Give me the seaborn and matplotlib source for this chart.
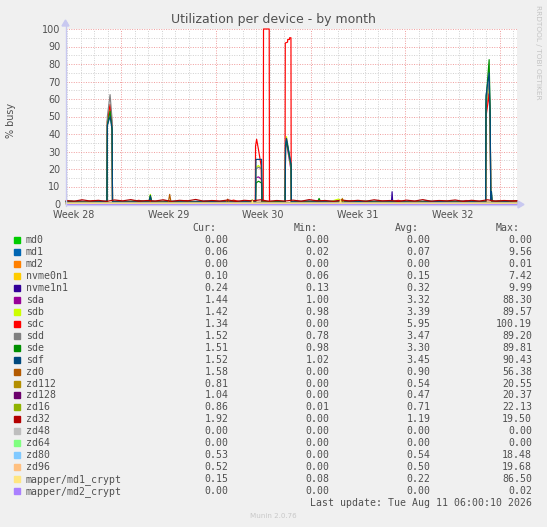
import numpy as np
import pandas as pd
import seaborn as sns
import matplotlib.pyplot as plt
from matplotlib.patches import Rectangle, Polygon
from matplotlib.lines import Line2D

sns.set_theme(style="white")
plt.rcParams['font.family'] = ['DejaVu Sans']

# ---------------- data ----------------
devices = ["md0", "md1", "md2", "nvme0n1", "nvme1n1", "sda", "sdb", "sdc", "sdd", "sde",
           "sdf", "zd0", "zd112", "zd128", "zd16", "zd32", "zd48", "zd64", "zd80", "zd96",
           "mapper/md1_crypt", "mapper/md2_crypt"]
colors = ["#00CC00", "#0066B3", "#FF8000", "#FFCC00", "#330099", "#990099", "#CCFF00",
          "#FF0000", "#808080", "#008F00", "#00487D", "#B35A00", "#B38F00", "#6B006B",
          "#8FB300", "#B30000", "#BEBEBE", "#80FF80", "#80C9FF", "#FFC080", "#FFE680",
          "#AA80FF"]
cur_vals = ["0.00", "0.06", "0.00", "0.10", "0.24", "1.44", "1.42", "1.34", "1.52", "1.51",
            "1.52", "1.58", "0.81", "1.04", "0.86", "1.92", "0.00", "0.00", "0.53", "0.52",
            "0.15", "0.00"]
min_vals = ["0.00", "0.02", "0.00", "0.06", "0.13", "1.00", "0.98", "0.00", "0.78", "0.98",
            "1.02", "0.00", "0.00", "0.00", "0.01", "0.00", "0.00", "0.00", "0.00", "0.00",
            "0.08", "0.00"]
avg_vals = ["0.00", "0.07", "0.00", "0.15", "0.32", "3.32", "3.39", "5.95", "3.47", "3.30",
            "3.45", "0.90", "0.54", "0.47", "0.71", "1.19", "0.00", "0.00", "0.54", "0.50",
            "0.22", "0.00"]
max_vals = ["0.00", "9.56", "0.01", "7.42", "9.99", "88.30", "89.57", "100.19", "89.20", "89.81",
            "90.43", "56.38", "20.55", "20.37", "22.13", "19.50", "0.00", "0.00", "18.48", "19.68",
            "86.50", "0.02"]

week_labels = ["Week 28", "Week 29", "Week 30", "Week 31", "Week 32"]
week_label_days = [0.5, 7.5, 14.5, 21.5, 28.5]
week_boundaries = [4, 11, 18, 25, 32]
x_start, x_end = -0.09, 33.27

# shared sample times (days) for the physical disks sda, sdb, sdd, sde, sdf
disk_t = [-0.09, 0.33, 1.0, 1.67, 2.34, 2.94, 2.97, 3.17, 3.32, 3.35,
          4.05, 4.72, 5.39, 6.05, 6.15, 6.24, 6.91, 7.58, 8.24, 8.91,
          9.58, 10.25, 10.91, 11.58, 12.25, 12.92, 13.58, 13.93, 13.96, 14.15,
          14.38, 14.41, 15.01, 15.58, 16.12, 16.15, 16.22, 16.56, 16.58, 17.2,
          17.87, 18.54, 18.63, 18.73, 19.4, 20.06, 20.73, 21.4, 22.06, 22.73,
          23.4, 24.07, 24.73, 25.4, 26.07, 26.73, 27.4, 28.07, 28.74, 29.4,
          30.07, 30.74, 30.95, 30.98, 31.21, 31.29, 31.33, 31.38, 31.42, 32.1, 32.8, 33.27]
sda_v = [1.4, 1.2, 1.6, 1.3, 1.5, 1.4, 48, 55, 45, 1.3,
         1.5, 1.2, 1.4, 1.3, 3.0, 1.4, 1.6, 1.2, 1.5, 1.3,
         1.4, 1.6, 1.2, 1.5, 1.3, 1.4, 1.5, 1.4, 15, 15.5,
         14, 1.3, 1.5, 1.2, 1.4, 32, 35, 19, 1.3, 1.4,
         1.6, 1.2, 1.5, 1.3, 1.4, 1.5, 1.2, 1.6, 1.3, 1.4,
         1.5, 1.3, 1.4, 1.6, 1.2, 1.5, 1.4, 1.3, 1.5, 1.4,
         1.2, 1.5, 1.4, 55, 66, 45, 2.0, 5, 1.4, 1.5, 1.3, 1.44]
sdb_v = [1.3, 1.5, 1.2, 1.6, 1.4, 1.3, 47, 56, 44, 1.4,
         1.3, 1.6, 1.5, 1.4, 5.5, 1.3, 1.4, 1.5, 1.2, 1.6,
         1.3, 1.4, 1.5, 1.3, 1.6, 1.2, 1.4, 1.5, 21, 22,
         20, 1.4, 1.3, 1.5, 1.4, 34, 38.5, 20, 1.5, 1.3,
         1.4, 1.5, 1.6, 1.4, 1.3, 2.8, 1.4, 1.2, 1.5, 1.4,
         1.3, 1.6, 1.4, 1.3, 1.5, 1.2, 1.4, 1.6, 1.3, 1.5,
         1.4, 1.3, 1.5, 56, 68, 44, 2.0, 5, 1.4, 1.3, 1.6, 1.42]
sdd_v = [1.5, 1.3, 1.4, 1.2, 1.6, 1.5, 50, 62.5, 48, 1.2,
         1.4, 1.5, 1.3, 1.4, 3.5, 1.5, 1.3, 1.4, 1.6, 1.2,
         1.5, 1.3, 1.4, 1.6, 1.2, 1.4, 1.3, 1.5, 20, 21,
         20, 1.5, 1.4, 1.3, 1.2, 34, 37, 22, 1.4, 1.5,
         1.3, 1.4, 1.2, 1.5, 1.6, 1.3, 1.4, 1.5, 1.2, 1.4,
         1.6, 1.4, 1.3, 1.5, 1.4, 1.2, 1.5, 1.3, 1.4, 1.6,
         1.3, 1.4, 1.5, 57, 70, 46, 2.0, 6, 1.5, 1.4, 1.5, 1.52]
sde_v = [1.4, 1.5, 1.2, 1.4, 1.3, 1.5, 45, 53, 42, 1.5,
         1.2, 1.4, 1.6, 1.3, 5.0, 1.4, 1.5, 1.3, 1.4, 1.5,
         1.2, 1.5, 1.3, 1.4, 1.5, 1.3, 1.6, 1.4, 12, 13,
         12, 1.4, 1.2, 1.5, 1.3, 33, 36, 22, 1.4, 1.3,
         1.5, 1.4, 3.2, 1.5, 1.4, 1.3, 1.5, 1.4, 1.6, 1.3,
         1.4, 1.5, 1.3, 1.4, 1.2, 1.6, 1.3, 1.5, 1.4, 1.3,
         1.5, 1.4, 1.3, 60, 82.5, 50, 2.0, 7, 1.5, 1.6, 1.4, 1.51]
sdf_v = [1.5, 1.6, 1.4, 1.5, 1.3, 1.6, 45, 50, 43, 1.5,
         1.4, 1.5, 1.6, 1.5, 4.5, 1.5, 1.4, 1.6, 1.5, 1.4,
         1.5, 1.6, 1.4, 1.5, 1.3, 1.5, 1.4, 1.5, 25.5, 25.5,
         25.5, 1.2, 1.0, 1.1, 1.2, 34, 37.5, 22.5, 1.4, 1.5,
         1.6, 1.4, 1.5, 1.5, 1.4, 1.6, 1.5, 1.3, 1.5, 1.6,
         1.4, 1.5, 1.5, 1.4, 1.6, 1.5, 1.4, 1.5, 1.6, 1.5,
         1.4, 1.5, 1.5, 62, 75, 48, 2.0, 7, 1.5, 1.4, 1.6, 1.52]

sdc_pts = [(-0.09, 1.3), (0.4, 1.0), (0.9, 1.7), (1.4, 1.2), (1.9, 1.9), (2.4, 1.1),
           (2.94, 1.3), (2.97, 47), (3.17, 57), (3.32, 44), (3.35, 1.2),
           (3.8, 1.8), (4.3, 1.0), (4.8, 1.4), (5.3, 2.1), (5.8, 1.2), (6.3, 1.6), (6.8, 1.0),
           (7.3, 1.9), (7.8, 1.3), (8.3, 1.1), (8.8, 2.0), (9.3, 1.2), (9.8, 1.5), (10.3, 1.0),
           (10.8, 1.8), (11.3, 1.3), (11.8, 1.1), (12.3, 2.2), (12.8, 1.3), (13.3, 1.0),
           (13.6, 1.6), (13.91, 1.3), (13.93, 33), (14.01, 37), (14.15, 31), (14.34, 22),
           (14.40, 1.2), (14.50, 1.1), (14.52, 100), (14.94, 100), (14.96, 1.0),
           (15.4, 1.4), (15.8, 1.1), (16.11, 1.3), (16.13, 92), (16.30, 92.5), (16.31, 94),
           (16.44, 94), (16.45, 95), (16.55, 95), (16.57, 1.2),
           (17.0, 1.7), (17.5, 1.1), (18.0, 1.4), (18.5, 2.0), (19.0, 1.2), (19.5, 1.0),
           (20.0, 1.6), (20.5, 1.3), (21.0, 1.9), (21.5, 1.1), (22.0, 1.4), (22.5, 1.0),
           (23.0, 1.8), (23.5, 1.2), (24.0, 1.5), (24.5, 2.1), (25.0, 1.1), (25.5, 1.4),
           (26.0, 1.0), (26.5, 1.7), (27.0, 1.3), (27.5, 1.9), (28.0, 1.1), (28.5, 1.5),
           (29.0, 1.2), (29.5, 2.0), (30.0, 1.3), (30.5, 1.0), (30.95, 1.2),
           (30.98, 50), (31.21, 63), (31.29, 45), (31.33, 2.0), (31.38, 4), (31.42, 1.4),
           (31.9, 1.8), (32.4, 1.1), (32.9, 1.6), (33.27, 1.34)]

zd32_pts = [(-0.09, 2.0), (0.5, 1.6), (1.1, 2.4), (1.7, 1.7), (2.3, 2.1), (2.9, 1.5), (3.5, 2.3),
            (4.1, 1.8), (4.7, 2.5), (5.3, 1.6), (5.9, 2.0), (6.5, 1.7), (7.1, 2.4), (7.7, 1.5),
            (8.3, 2.1), (8.9, 1.8), (9.5, 2.6), (10.1, 1.6), (10.7, 2.0), (11.3, 1.7),
            (11.9, 2.3), (12.5, 1.5), (13.1, 2.1), (13.7, 1.8), (14.3, 2.4), (14.9, 1.6),
            (15.5, 2.0), (16.1, 1.7), (16.7, 2.2), (17.3, 1.6), (17.9, 2.5), (18.5, 1.8),
            (19.1, 2.0), (19.7, 1.5), (20.3, 2.3), (20.9, 1.7), (21.5, 2.1), (22.1, 1.6),
            (22.7, 2.4), (23.3, 1.8), (23.9, 2.0), (24.5, 1.5), (25.1, 2.2), (25.7, 1.7),
            (26.3, 2.5), (26.9, 1.6), (27.5, 2.0), (28.1, 1.8), (28.7, 2.3), (29.3, 1.5),
            (29.9, 2.1), (30.5, 1.7), (31.1, 2.4), (31.7, 1.6), (32.3, 2.0), (32.9, 1.8),
            (33.27, 1.92)]
zd0_pts = [(-0.09, 0.9), (1.4, 1.1), (2.8, 0.8), (4.2, 1.0), (5.6, 0.9), (7.0, 1.1), (7.48, 0.9),
           (7.58, 5.5), (7.68, 0.9), (9.0, 1.0), (10.4, 0.8), (11.77, 1.0), (11.87, 2.8),
           (11.97, 1.0), (13.2, 0.9), (14.6, 1.1), (16.0, 0.8), (17.4, 1.0), (18.8, 0.9),
           (20.2, 1.1), (21.6, 0.8), (23.0, 1.0), (24.4, 0.9), (25.8, 1.1), (27.2, 0.8),
           (28.6, 1.0), (30.0, 0.9), (31.4, 1.1), (32.6, 0.8), (33.27, 1.58)]
zd112_pts = [(-0.09, 0.5), (2.0, 0.6), (4.0, 0.4), (6.0, 0.6), (8.0, 0.5), (10.0, 0.4),
             (12.0, 0.6), (14.0, 0.5), (16.0, 0.6), (18.0, 0.4), (20.25, 0.5),
             (20.35, 3.2), (20.45, 0.6), (22.0, 0.5), (24.0, 0.4), (26.0, 0.6), (28.0, 0.5),
             (30.0, 0.6), (32.0, 0.5), (33.27, 0.81)]
zd128_pts = [(-0.09, 0.5), (3.0, 0.4), (6.0, 0.6), (9.0, 0.4), (12.0, 0.5), (15.0, 0.6),
             (18.0, 0.4), (21.0, 0.5), (24.0, 0.4), (27.0, 0.6), (30.0, 0.4), (33.27, 1.04)]
zd16_pts = [(-0.09, 0.7), (2.5, 0.8), (5.0, 0.6), (7.5, 0.8), (10.0, 0.7), (12.5, 0.6),
            (13.63, 0.7), (13.68, 2.5), (13.73, 0.7), (16.5, 0.8), (19.0, 0.6), (21.5, 0.7),
            (24.0, 0.8), (26.5, 0.6), (29.0, 0.7), (31.5, 0.8), (33.27, 0.86)]
zd80_pts = [(-0.09, 0.5), (4.0, 0.6), (8.0, 0.5), (12.0, 0.6), (16.0, 0.5), (20.0, 0.6),
            (24.0, 0.5), (28.0, 0.6), (33.27, 0.53)]
zd96_pts = [(-0.09, 0.5), (4.0, 0.5), (8.0, 0.5), (12.0, 0.5), (16.0, 0.5), (20.0, 0.5),
            (24.0, 0.5), (28.0, 0.5), (33.27, 0.52)]
zd48_pts = [(-0.09, 0.0), (33.27, 0.0)]
zd64_pts = [(-0.09, 0.0), (33.27, 0.0)]
md0_pts = [(-0.09, 0.0), (33.27, 0.0)]
md1_pts = [(-0.09, 0.07), (33.27, 0.06)]
md2_pts = [(-0.09, 0.0), (33.27, 0.0)]
nvme0n1_pts = [(-0.09, 0.15), (6.05, 0.15), (6.15, 4.0), (6.25, 0.15), (33.27, 0.10)]
nvme1n1_pts = [(-0.09, 0.3), (10.0, 0.3), (23.98, 0.3), (24.03, 7.0), (24.08, 0.3), (33.27, 0.24)]
md1_crypt_pts = [(-0.09, 0.2), (13.66, 0.2), (13.7, 1.8), (13.74, 0.2), (20.16, 0.2),
                 (20.21, 2.5), (20.26, 0.2), (33.27, 0.15)]
md2_crypt_pts = [(-0.09, 0.0), (33.27, 0.0)]

# ---------------- assemble long table ----------------
frames = []
def add_pairs(name, pts):
    t, v = zip(*pts)
    frames.append(pd.DataFrame({"day": t, "busy": v, "device": name}))

def add_tv(name, t, v):
    frames.append(pd.DataFrame({"day": t, "busy": v, "device": name}))

add_pairs("md0", md0_pts)
add_pairs("md1", md1_pts)
add_pairs("md2", md2_pts)
add_pairs("nvme0n1", nvme0n1_pts)
add_pairs("nvme1n1", nvme1n1_pts)
add_tv("sda", disk_t, sda_v)
add_tv("sdb", disk_t, sdb_v)
add_pairs("sdc", sdc_pts)
add_tv("sdd", disk_t, sdd_v)
add_tv("sde", disk_t, sde_v)
add_tv("sdf", disk_t, sdf_v)
add_pairs("zd0", zd0_pts)
add_pairs("zd112", zd112_pts)
add_pairs("zd128", zd128_pts)
add_pairs("zd16", zd16_pts)
add_pairs("zd32", zd32_pts)
add_pairs("zd48", zd48_pts)
add_pairs("zd64", zd64_pts)
add_pairs("zd80", zd80_pts)
add_pairs("zd96", zd96_pts)
add_pairs("mapper/md1_crypt", md1_crypt_pts)
add_pairs("mapper/md2_crypt", md2_crypt_pts)
df = pd.concat(frames, ignore_index=True)

# ---------------- figure ----------------
W, H = 547, 527
fig = plt.figure(figsize=(W / 100, H / 100), dpi=100, facecolor="#F0F0F0")

def fx(px):
    return px / W

def fy(py):
    return 1 - py / H

left, right, top, bottom = 66, 517, 29, 204
ax = fig.add_axes([fx(left), fy(bottom), fx(right) - fx(left), fy(top) - fy(bottom)])
ax.set_facecolor("white")
ax.set_xlim(x_start, x_end)
ax.set_ylim(0, 100)

# grid
for d in range(0, 34):
    if d in week_boundaries:
        continue
    ax.axvline(d, color="#D0D0D0", lw=0.7, ls=(0, (1, 1.5)), zorder=0)
for yv in range(5, 100, 10):
    ax.axhline(yv, color="#D0D0D0", lw=0.7, ls=(0, (1, 1.5)), zorder=0)
for d in week_boundaries:
    ax.axvline(d, color="#F09C9C", lw=0.7, ls=(0, (1, 1.5)), zorder=0.5)
for yv in range(10, 101, 10):
    ax.axhline(yv, color="#F09C9C", lw=0.7, ls=(0, (1, 1.5)), zorder=0.5)

sns.lineplot(data=df, x="day", y="busy", hue="device", hue_order=devices,
             palette=colors, estimator=None, sort=False, legend=False,
             lw=0.85, ax=ax, zorder=2)
for ln in ax.get_lines():
    if ln.get_zorder() == 2:
        ln.set_clip_on(False)

for s in ax.spines.values():
    s.set_visible(False)
ax.set_xlabel("")
ax.set_ylabel("")
ax.set_xticks(week_label_days)
ax.set_xticklabels(week_labels, fontsize=6.9, color="#505050")
ax.set_yticks(range(0, 101, 10))
ax.set_yticklabels([str(v) for v in range(0, 101, 10)], fontsize=6.9, color="#505050")
ax.tick_params(axis="both", length=0)
ax.tick_params(axis="y", pad=4)
ax.tick_params(axis="x", pad=4.5)

# axes with arrows (rrdtool style)
axis_col = "#C8C8F0"
fig.add_artist(Line2D([fx(left), fx(520)], [fy(bottom + 0.5), fy(bottom + 0.5)], color=axis_col, lw=1.0))
fig.add_artist(Line2D([fx(left - 0.5), fx(left - 0.5)], [fy(bottom + 2), fy(22)], color=axis_col, lw=1.0))
fig.add_artist(Polygon([[fx(518), fy(bottom - 3)], [fx(524), fy(bottom + 0.5)], [fx(518), fy(bottom + 4)]],
                       closed=True, color=axis_col, transform=fig.transFigure))
fig.add_artist(Polygon([[fx(left - 4), fy(26)], [fx(left - 0.5), fy(20)], [fx(left + 3), fy(26)]],
                       closed=True, color=axis_col, transform=fig.transFigure))

# titles / side texts
fig.text(fx(273), fy(19.5), "Utilization per device - by month", ha="center", va="center",
         fontsize=9, color="#505050")
fig.text(fx(11), fy(120), "% busy", ha="center", va="center", rotation=90,
         fontsize=6.9, color="#505050")
fig.text(fx(538), fy(52), "RRDTOOL / TOBI OETIKER", ha="center", va="center", rotation=270,
         fontsize=5.3, color="#C4C4C4")

# legend table
mono = "DejaVu Sans Mono"
tc = "#505050"
fs = 7.1
hy = 228
fig.text(fx(216.5), fy(hy), "Cur:", ha="right", va="center", family=mono, fontsize=fs, color=tc)
fig.text(fx(317.5), fy(hy), "Min:", ha="right", va="center", family=mono, fontsize=fs, color=tc)
fig.text(fx(418.5), fy(hy), "Avg:", ha="right", va="center", family=mono, fontsize=fs, color=tc)
fig.text(fx(520), fy(hy), "Max:", ha="right", va="center", family=mono, fontsize=fs, color=tc)
for i, name in enumerate(devices):
    yy = 240 + 11.96 * i
    fig.add_artist(Rectangle((fx(13.5), fy(yy + 3)), fx(6), 6 / H, color=colors[i],
                             transform=fig.transFigure))
    fig.text(fx(26), fy(yy), name, ha="left", va="center", family=mono, fontsize=fs, color=tc)
    fig.text(fx(228.5), fy(yy), cur_vals[i], ha="right", va="center", family=mono, fontsize=fs, color=tc)
    fig.text(fx(329.5), fy(yy), min_vals[i], ha="right", va="center", family=mono, fontsize=fs, color=tc)
    fig.text(fx(430.5), fy(yy), avg_vals[i], ha="right", va="center", family=mono, fontsize=fs, color=tc)
    fig.text(fx(532), fy(yy), max_vals[i], ha="right", va="center", family=mono, fontsize=fs, color=tc)

fig.text(fx(532), fy(503.5), "Last update: Tue Aug 11 06:00:10 2026", ha="right", va="center",
         family=mono, fontsize=fs, color=tc)
fig.text(fx(273), fy(516), "Munin 2.0.76", ha="center", va="center", fontsize=5.1, color="#C8C8C8")

fig.savefig("out.png", dpi=100, facecolor=fig.get_facecolor())
